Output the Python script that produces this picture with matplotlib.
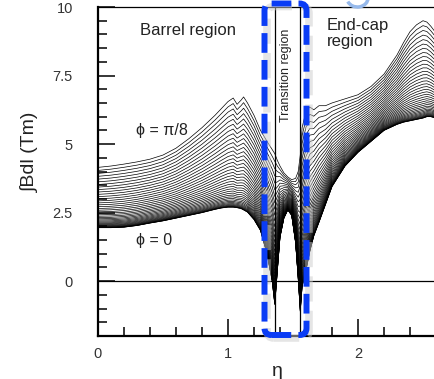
import matplotlib.pyplot as plt
import numpy as np
from matplotlib.patches import FancyBboxPatch, Arc

plt.rcParams['font.family'] = ['Liberation Sans', 'DejaVu Sans']

# eta positions where the two edge curves were read
eta = [0, 0.1, 0.2, 0.3, 0.4, 0.5, 0.6, 0.7, 0.8, 0.9, 0.95, 1.0, 1.04, 1.07,
       1.1, 1.12, 1.15, 1.2, 1.25, 1.3, 1.34, 1.36, 1.38, 1.4, 1.43, 1.46,
       1.49, 1.52, 1.54, 1.556, 1.57, 1.6, 1.63, 1.66, 1.7, 1.75, 1.8, 1.9,
       2.0, 2.1, 2.2, 2.3, 2.35, 2.4, 2.45, 2.5, 2.53, 2.56, 2.6]

# integral B dl (Tm) for phi = pi/8 (upper edge of the family)
bdl_pi8 = [4.15, 4.2, 4.27, 4.35, 4.45, 4.6, 4.85, 5.2, 5.6, 6.05, 6.3, 6.55,
           6.68, 6.45, 6.6, 6.72, 6.5, 6.05, 5.5, 5.1, 4.8, 4.65, 4.4, 4.2,
           3.95, 3.8, 3.7, 3.75, 4.0, 4.6, 5.6, 6.2, 6.35, 6.25, 6.4, 6.4,
           6.5, 6.65, 6.8, 7.1, 7.55, 8.25, 8.7, 9.1, 9.35, 9.5, 9.45, 9.3,
           9.05]

# integral B dl (Tm) for phi = 0 (lower edge of the family)
bdl_0 = [1.95, 1.95, 1.97, 2.03, 2.12, 2.2, 2.3, 2.4, 2.5, 2.62, 2.67, 2.7,
         2.7, 2.68, 2.65, 2.6, 2.52, 2.25, 1.85, 1.0, 0.0, -0.85, 0.4, 1.6,
         2.3, 2.6, 2.4, 1.4, 0.1, -1.1, -0.2, 0.4, 1.1, 1.65, 2.15, 2.8,
         3.45, 4.2, 4.7, 5.1, 5.5, 5.72, 5.8, 5.85, 5.9, 5.95, 6.0, 6.0,
         5.95]

n_phi = 40
trans_edges = [1.36, 1.555]

fig = plt.figure(figsize=(4.35, 3.79), dpi=100)
ax = fig.add_axes([98/435, 43/379, 1 - 98/435, 329/379])

eta_a = np.array(eta)
lo = np.array(bdl_0)
hi = np.array(bdl_pi8)
for k in range(n_phi):
    w = (k / (n_phi - 1)) ** 2
    ax.plot(eta_a, lo + w * (hi - lo), color='black', lw=0.5)

ax.axhline(0, color='black', lw=0.9)
for e in trans_edges:
    ax.axvline(e, color='black', lw=0.9)

ax.set_xlim(0, (435 - 98) / 130)
ax.set_ylim(-2, 10)
ax.set_xticks([0, 1, 2])
ax.set_xticks(np.arange(0, 2.6, 0.2), minor=True)
ax.set_yticks([0, 2.5, 5, 7.5, 10])
ax.set_yticks(np.arange(-2, 10.01, 0.5), minor=True)
ax.set_yticklabels(['0', '2.5', '5', '7.5', '10'])
ax.tick_params(which='both', direction='in', width=1.1, colors='black',
               labelcolor='#333333', labelsize=10.5)
ax.tick_params(which='major', length=12)
ax.tick_params(which='minor', length=6.5)
ax.tick_params(axis='y', pad=18)
ax.tick_params(axis='x', pad=8)
ax.spines['right'].set_visible(False)
ax.spines['top'].set_linewidth(0.9)
ax.spines['left'].set_linewidth(1.6)
ax.spines['bottom'].set_linewidth(1.6)

ax.text(0.69, 9.16, 'Barrel region', fontsize=12, color='#222222',
        ha='center', va='center')
ax.text(1.762, 9.6, 'End-cap\nregion', fontsize=12, color='#222222',
        ha='left', va='top', linespacing=1.05)
ax.text(1.446, 7.52, 'Transition region', fontsize=9, color='#222222',
        rotation=90, ha='center', va='center')
ax.text(0.292, 5.51, '\u03d5 = \u03c0/8', fontsize=11.5, color='#222222',
        ha='left', va='center')
ax.text(0.292, 1.5, '\u03d5 = 0', fontsize=11.5, color='#222222',
        ha='left', va='center')

fig.text(30/435, 1 - 152/379, '\u222bBdl (Tm)', fontsize=14, color='#222222',
         rotation=90, ha='center', va='center')
fig.text(277/435, 1 - 371/379, '\u03b7', fontsize=14, color='#222222',
         ha='center', va='center')

# dashed highlight box with a soft shadow
box = dict(boxstyle='round,pad=0,rounding_size=0.07', fill=False,
           transform=fig.dpi_scale_trans, clip_on=False)
shadow = FancyBboxPatch((2.67, 0.41), 0.42, 3.315, ec='#cccccc', lw=5.5,
                        linestyle=(0, (3.3, 1.2)), alpha=0.5, **box)
fig.add_artist(shadow)
blue = FancyBboxPatch((2.645, 0.44), 0.42, 3.315, ec='#0a3cf5', lw=4.3,
                      linestyle=(0, (3.3, 1.2)), **box)
fig.add_artist(blue)
fig.add_artist(Arc((3.575, 3.81), 0.21, 0.18, theta1=200, theta2=360,
                   color='#96b9eb', lw=2.5, transform=fig.dpi_scale_trans))

fig.savefig('out.png', dpi=100)
